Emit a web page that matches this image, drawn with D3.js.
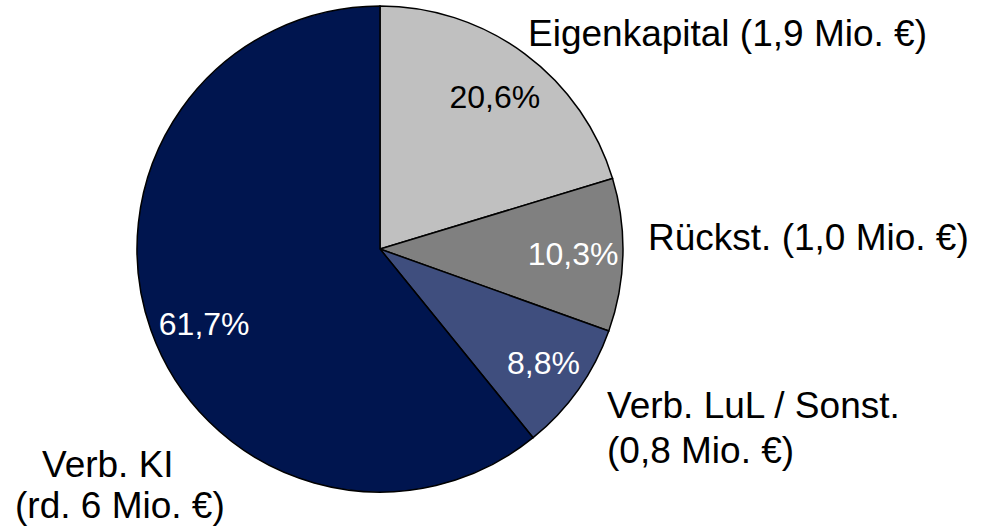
<!DOCTYPE html>
<html><head><meta charset="utf-8">
<script src="https://cdn.jsdelivr.net/npm/d3@7"></script>
<style>body{margin:0;background:#fff}svg{display:block}text{font-family:"Liberation Sans",Arial,sans-serif}</style>
</head><body>
<svg id="chart" width="988" height="527"></svg>
<script>
const categories = ["Eigenkapital", "Rückst.", "Verb. LuL / Sonst.", "Verb. KI"];
const shares = [20.6, 10.3, 8.8, 61.7];
const pctLabels = ["20,6%", "10,3%", "8,8%", "61,7%"];
const outerLabels = [["Eigenkapital (1,9 Mio. €)"], ["Rückst. (1,0 Mio. €)"], ["Verb. LuL / Sonst.", "(0,8 Mio. €)"], ["Verb. KI", "(rd. 6 Mio. €)"]];
const colors = ["#c0c0c0", "#808080", "#3f4e7e", "#00154f"];
const pctColors = ["#000", "#fff", "#fff", "#fff"];

const svg = d3.select("#chart");
const cx = 380, cy = 249, R = 243;
const g = svg.append("g").attr("transform", `translate(${cx},${cy})`);
const pie = d3.pie().sort(null).value(d => d)(shares);
const arc = d3.arc().innerRadius(0).outerRadius(R);

g.selectAll("path").data(pie).join("path")
  .attr("d", arc).attr("fill", (d, i) => colors[i])
  .attr("stroke", "#000").attr("stroke-width", 1.5);

// percentage labels (radius factor and angle tweak per slice)
const pctR = [0.785, 0.795, 0.82, 0.786];
const pctAng = [0.008, 0, -0.008, -0.06];
g.selectAll("text.pct").data(pie).join("text").attr("class", "pct")
  .each(function(d, i) {
    const a = (d.startAngle + d.endAngle) / 2 + pctAng[i];
    const r = R * pctR[i];
    d3.select(this).attr("x", Math.sin(a) * r).attr("y", -Math.cos(a) * r)
      .attr("dy", "0.36em");
  })
  .attr("text-anchor", "middle").attr("font-size", 32)
  .attr("fill", (d, i) => pctColors[i]).text((d, i) => pctLabels[i]);

// outer labels layout: per line [x, baseline y] relative to pie centre
const outerPos = [
  [[148, -203]],
  [[268, 1]],
  [[227, 169], [227, 214]],
  [[-338, 228], [-365, 269]]
];
outerLabels.forEach((lines, i) => {
  const t = g.append("text").attr("font-size", 37).attr("fill", "#000");
  lines.forEach((ln, j) => {
    t.append("tspan").attr("x", outerPos[i][j][0]).attr("y", outerPos[i][j][1]).text(ln);
  });
});
</script>
</body></html>
